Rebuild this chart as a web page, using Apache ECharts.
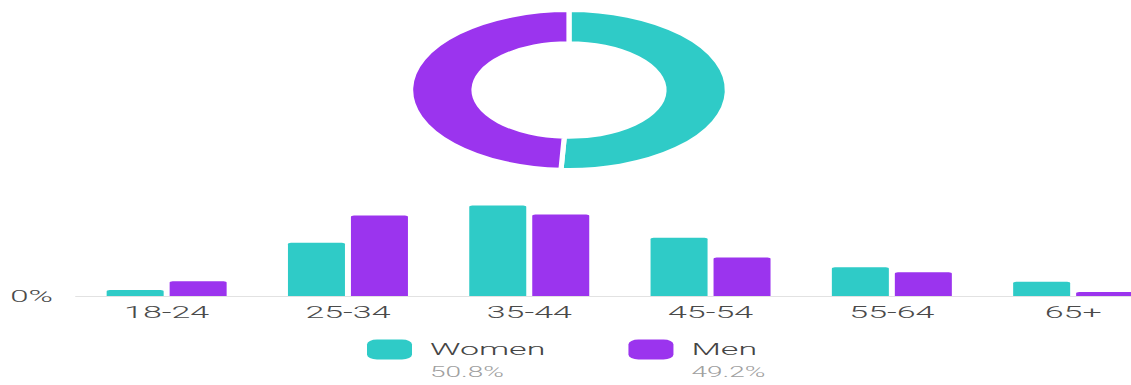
<!DOCTYPE html>
<html>
<head>
<meta charset="utf-8">
<script src="https://cdn.jsdelivr.net/npm/echarts@6/dist/echarts.min.js"></script>
<style>
  html, body { margin: 0; padding: 0; background: #fff; overflow: hidden; }
  #wrap { width: 1131px; height: 385px; overflow: hidden; position: relative; }
  /* the whole chart is drawn at half width and widened 2x */
  #chart { position: absolute; left: 0; top: 0; width: 565.5px; height: 385px;
           transform: scaleX(2); transform-origin: 0 0; }
</style>
</head>
<body>
<div id="wrap"><div id="chart"></div></div>
<script>
// Audience by age group, % of total
const ageGroups = ['18-24', '25-34', '35-44', '45-54', '55-64', '65+'];
const womenValues = [1.2, 10.8, 18.3, 11.8, 5.8, 2.9];
const menValues = [3.0, 16.3, 16.5, 7.8, 4.8, 0.8];

// Overall split by gender, %
const genderNames = ['Women', 'Men'];
const genderShares = [50.8, 49.2];

const TEAL = '#2fcbc7';
const PURPLE = '#9b34ee';
const FONT = 'Roboto, "Noto Sans", sans-serif';

const shareByName = {};
genderNames.forEach((n, i) => { shareByName[n] = genderShares[i]; });

const chart = echarts.init(document.getElementById('chart'), null, {
  renderer: 'svg', width: 565.5, height: 385
});

chart.setOption({
  animation: false,
  color: [TEAL, PURPLE],
  textStyle: { fontFamily: FONT },
  grid: {
    left: 38, right: -16.4, top: 197.2, bottom: 89,
    containLabel: false, outerBoundsMode: 'none'
  },
  legend: {
    data: genderNames,
    left: 183.5,
    top: 320.5,
    padding: 0,
    orient: 'horizontal',
    icon: 'roundRect',
    itemWidth: 22.5,
    itemHeight: 20,
    itemGap: 41.5,
    selectedMode: false,
    formatter: name => '{e| }\n{a|' + name + '}\n{b|' + shareByName[name].toFixed(1) + '%}',
    textStyle: {
      padding: [0, 0, 0, 4],
      rich: {
        e: { fontSize: 14, lineHeight: 22 },
        a: { fontSize: 17, lineHeight: 22, color: '#454545', fontFamily: FONT, fontWeight: 300 },
        b: { fontSize: 14, lineHeight: 22, color: '#a0a0a0', fontFamily: FONT, fontWeight: 300 }
      }
    }
  },
  xAxis: {
    type: 'category',
    data: ageGroups,
    axisTick: { show: false },
    axisLine: { lineStyle: { color: '#e2e2e2', width: 1 } },
    axisLabel: { color: '#4a4a4a', fontSize: 17, fontWeight: 300, margin: 8, fontFamily: FONT }
  },
  yAxis: {
    type: 'value',
    min: 0, max: 20, interval: 20,
    axisLine: { show: false },
    axisTick: { show: false },
    splitLine: { show: false },
    axisLabel: {
      color: '#4a4a4a', fontSize: 16.5, fontWeight: 300, margin: 11.5, fontFamily: FONT,
      formatter: v => (v === 0 ? '0%' : '')
    }
  },
  series: [
    {
      name: 'Women', type: 'bar', data: womenValues,
      barWidth: 28.5, barGap: '10.5%',
      itemStyle: { color: TEAL, borderRadius: [1.5, 1.5, 0, 0] },
      silent: true
    },
    {
      name: 'Men', type: 'bar', data: menValues,
      barWidth: 28.5, barGap: '10.5%',
      itemStyle: { color: PURPLE, borderRadius: [1.5, 1.5, 0, 0] },
      silent: true
    },
    {
      name: 'Gender', type: 'pie',
      center: [284.5, 90],
      radius: [47.5, 79.2],
      startAngle: 90,
      clockwise: true,
      silent: true,
      label: { show: false },
      labelLine: { show: false },
      itemStyle: { borderColor: '#fff', borderWidth: 2.6 },
      data: genderNames.map((n, i) => ({
        name: n, value: genderShares[i],
        itemStyle: { color: i === 0 ? TEAL : PURPLE }
      }))
    }
  ]
});
</script>
</body>
</html>
